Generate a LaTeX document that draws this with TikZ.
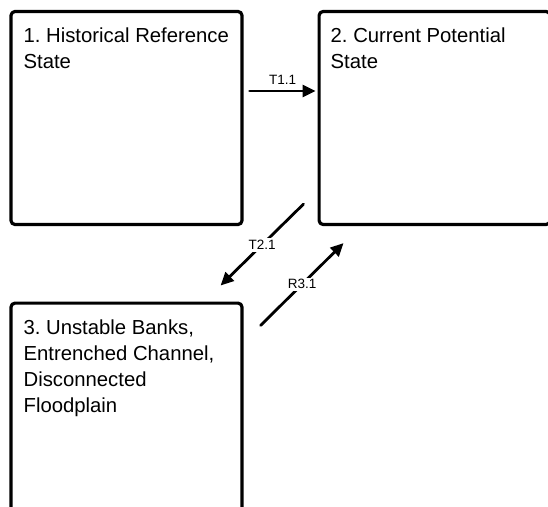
\documentclass[tikz,border=0pt]{standalone}
\usepackage{fontspec}
\setmainfont{Liberation Sans}
\usetikzlibrary{arrows.meta,positioning}

\begin{document}
\frenchspacing
\begin{tikzpicture}[line cap=round,line join=round,x=1pt,y=-1pt,
  statebox/.style={draw,line width=3.2pt,rounded corners=4pt,minimum width=231pt,minimum height=213pt,inner sep=0pt},
  statetext/.style={align=left,inner sep=0pt,font=\fontsize{20.3}{26}\selectfont},
  trans/.style={line width=2.8pt,-{Triangle[length=13pt,width=12pt]}},
  translabel/.style={fill=white,inner sep=2pt,font=\fontsize{13.5}{15}\selectfont}]
\useasboundingbox (0,0) rectangle (548,506);
\clip (0,0) rectangle (548,506);
% states
\node [statebox] (hist) at (126.5,118) {};
\node [statebox] (curr) at (434.6,118) {};
\node [statebox] (unst) at (126.5,409.6) {};
\node [statetext,below right=18pt and 14pt of hist.north west] (histtxt) {1. Historical Reference\\State};
\node [statetext,below right=18pt and 13pt of curr.north west] (currtxt) {2. Current Potential\\State};
\node [statetext,below right=18pt and 14pt of unst.north west] (unsttxt) {3. Unstable Banks,\\Entrenched Channel,\\Disconnected\\Floodplain};
% transitions
\draw [trans] ([xshift=6pt,yshift=27pt]hist.east) -- node [translabel,above=3pt,fill=none] (t11) {T1.1} ([xshift=-2pt,yshift=27pt]curr.west);
\draw [trans] ([xshift=-14pt,yshift=22pt]curr.south west) -- node [translabel] (t21) {T2.1} ([xshift=-23pt,yshift=16pt]unst.north east);
\draw [trans] ([xshift=17pt,yshift=-24pt]unst.north east) -- node [translabel] (r31) {R3.1} ([xshift=26pt,yshift=-17pt]curr.south west);
\end{tikzpicture}
\end{document}
